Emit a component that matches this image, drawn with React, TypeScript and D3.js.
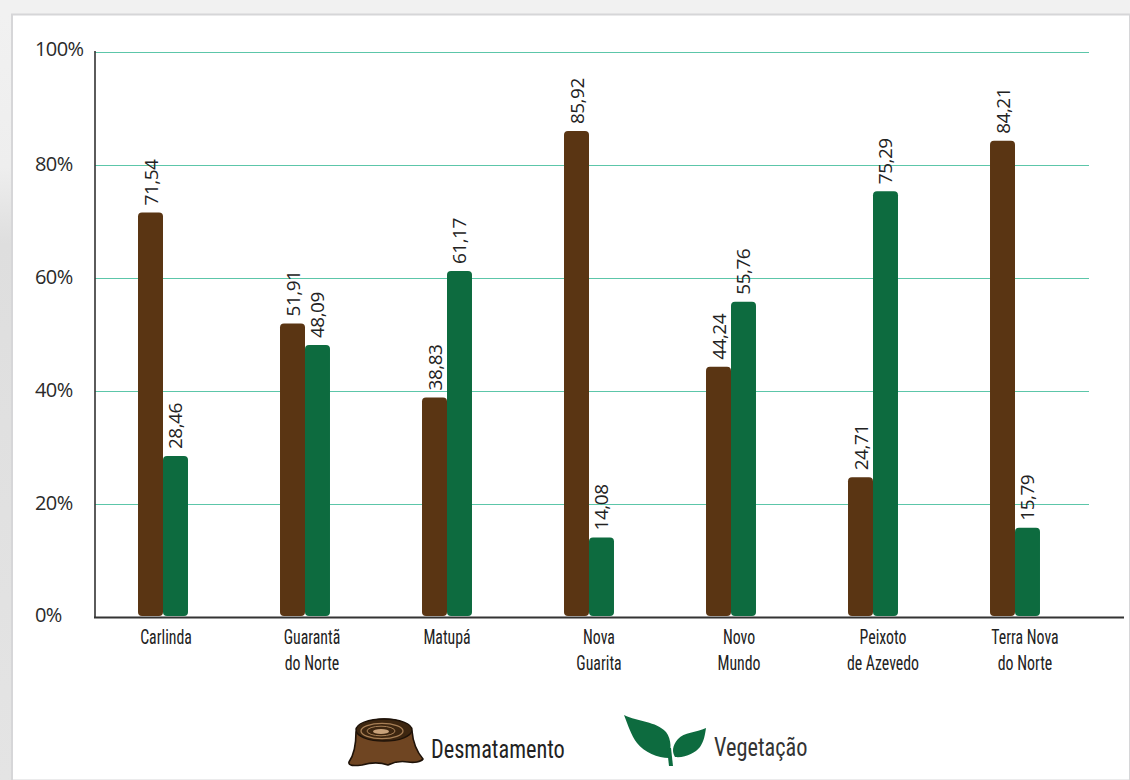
import React from "react";
import * as d3 from "d3";

const categories = [
  ["Carlinda"],
  ["Guarantã", "do Norte"],
  ["Matupá"],
  ["Nova", "Guarita"],
  ["Novo", "Mundo"],
  ["Peixoto", "de Azevedo"],
  ["Terra Nova", "do Norte"],
];
const desmatamento = [71.54, 51.91, 38.83, 85.92, 44.24, 24.71, 84.21];
const vegetacao = [28.46, 48.09, 61.17, 14.08, 55.76, 75.29, 15.79];
const seriesNames = ["Desmatamento", "Vegetação"];
const seriesColors = ["#5a3513", "#0d6b3f"];
const percentTicks = [0, 20, 40, 60, 80, 100];
const categoryLabelNudge = [3, 7, 0, 10, 8, 10, 10];

const WIDTH = 1130;
const HEIGHT = 780;
const sansFont = "'Open Sans', 'Noto Sans', sans-serif";
const narrowFont = "'Liberation Sans Narrow', 'Roboto Condensed', 'Liberation Sans', sans-serif";

const decimal = (v: number) => v.toFixed(2).replace(".", ",");

function StumpIcon() {
  return (
    <g>
      <path
        d="M356 732 C356 745 354 755 349 762 C348 766 354 766 362 765 C372 762 380 762 388 765 C394 762 402 761 408 762 C414 763 421 762 423 759 C417 752 413 743 412 731 C404 715 364 715 356 732 Z"
        fill="#6f4522"
        stroke="#1e1208"
        strokeWidth={1.6}
        strokeLinejoin="round"
      />
      <ellipse cx={384} cy={730} rx={28} ry={11} fill="#3d2610" stroke="#1e1208" strokeWidth={1.4} />
      <ellipse cx={382} cy={731} rx={21} ry={7.6} fill="none" stroke="#a87f55" strokeWidth={1.3} />
      <ellipse cx={381} cy={731} rx={14} ry={4.8} fill="none" stroke="#a87f55" strokeWidth={1} />
      <ellipse cx={381} cy={731.5} rx={8} ry={2.4} fill="#c9a27a" />
    </g>
  );
}

function LeafIcon() {
  return (
    <g fill="#0d6b3f">
      <path d="M624 715 C638 722 656 721 666 732 C672 740 671 750 669 758 C658 758 644 752 637 743 C631 735 628 725 624 715 Z" />
      <path d="M706 728 C696 733 684 732 678 739 C672 746 672 752 675 757 C686 758 695 753 700 747 C704 741 705 735 706 728 Z" />
      <path d="M667 748 L671 748 L672 757 L673 766 L669 766 L668 757 Z" />
    </g>
  );
}

export default function App() {
  const y = d3.scaleLinear().domain([0, 100]).range([617, 51.5]);
  const x0 = d3
    .scaleBand<number>()
    .domain(d3.range(categories.length))
    .range([92, 1086])
    .paddingInner(0.648)
    .paddingOuter(0.324);
  const x1 = d3.scaleBand<number>().domain([0, 1]).range([0, x0.bandwidth()]);
  const series = [desmatamento, vegetacao];

  return (
    <svg
      width={WIDTH}
      height={HEIGHT}
      viewBox={`0 0 ${WIDTH} ${HEIGHT}`}
      style={{ position: "fixed", left: 0, top: 0, display: "block" }}
    >
      <defs>
        <linearGradient id="edgeShade" x1="0" x2="0" y1="0" y2="1">
          <stop offset="0" stopColor="#f1f1f1" />
          <stop offset="0.2" stopColor="#eeeeee" />
          <stop offset="0.3" stopColor="#dedede" />
          <stop offset="1" stopColor="#e4e4e4" />
        </linearGradient>
      </defs>
      <rect width={WIDTH} height={HEIGHT} fill="#f1f1f1" />
      <rect x={0} y={14} width={13} height={HEIGHT - 14} fill="url(#edgeShade)" />
      <rect x={12} y={14.5} width={WIDTH - 12} height={HEIGHT - 14} fill="#ffffff" stroke="#d6d6d8" strokeWidth={2} />

      {percentTicks
        .filter((t) => t > 0)
        .map((t) => (
          <line
            key={t}
            x1={95}
            x2={1089}
            y1={Math.round(y(t)) + 0.5}
            y2={Math.round(y(t)) + 0.5}
            stroke="#5cc6a9"
            strokeWidth={1}
          />
        ))}

      {percentTicks.map((t) => (
        <text
          key={t}
          x={35}
          y={y(t) + (t === 0 ? 5 : t === 100 ? 4 : 6)}
          fontFamily={sansFont}
          fontSize={20}
          letterSpacing={-0.6}
          fill="#2a2a2a"
        >
          {t}%
        </text>
      ))}

      {series.map((values, s) =>
        values.map((v, i) => {
          const bx = (x0(i) ?? 0) + (x1(s) ?? 0);
          return (
            <g key={`${s}-${i}`}>
              <rect
                x={bx}
                y={y(v)}
                width={x1.bandwidth()}
                height={y(0) - y(v) - 1}
                rx={4}
                fill={seriesColors[s]}
              />
              <text
                transform={`translate(${bx + x1.bandwidth() / 2 + 7},${y(v) - 7}) rotate(-90)`}
                fontFamily={sansFont}
                fontSize={19}
                letterSpacing={-0.5}
                fill="#222222"
              >
                {decimal(v)}
              </text>
            </g>
          );
        })
      )}

      <line x1={95} x2={95} y1={51} y2={618} stroke="#333333" strokeWidth={1.6} />
      <line x1={94} x2={1124} y1={617.5} y2={617.5} stroke="#333333" strokeWidth={2} />

      {categories.map((lines, i) =>
        lines.map((line, l) => (
          <text
            key={line}
            transform={`translate(${(x0(i) ?? 0) + x0.bandwidth() / 2 + categoryLabelNudge[i]},${644 + l * 26}) scale(0.88,1.1)`}
            textAnchor="middle"
            fontFamily={narrowFont}
            fontSize={18}
            fill="#222222"
          >
            {line}
          </text>
        ))
      )}

      <StumpIcon />
      <text
        transform="translate(431,758) scale(0.95,1.06)"
        fontFamily={narrowFont}
        fontSize={23.5}
        fontWeight={400}
        fill="#222222"
      >
        {seriesNames[0]}
      </text>
      <LeafIcon />
      <text
        transform="translate(714,756) scale(0.95,1.06)"
        fontFamily={narrowFont}
        fontSize={23.5}
        fontWeight={400}
        fill="#333333"
      >
        {seriesNames[1]}
      </text>
    </svg>
  );
}
